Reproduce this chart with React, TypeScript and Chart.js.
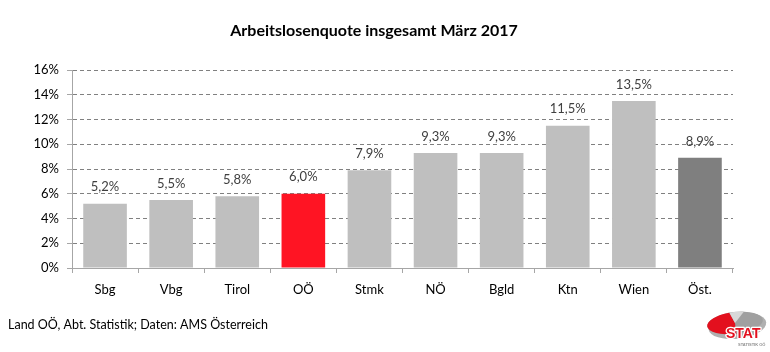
import React, { useEffect, useRef } from "react";
import { Chart, registerables } from "chart.js";

Chart.register(...registerables);

const TITLE = "Arbeitslosenquote insgesamt März 2017";
const SOURCE = "Land OÖ, Abt. Statistik; Daten: AMS Österreich";
const categories = ["Sbg", "Vbg", "Tirol", "OÖ", "Stmk", "NÖ", "Bgld", "Ktn", "Wien", "Öst."];
const values = [5.2, 5.5, 5.8, 6.0, 7.9, 9.3, 9.3, 11.5, 13.5, 8.9];
const barColors = ["#BFBFBF", "#BFBFBF", "#BFBFBF", "#FF1423", "#BFBFBF", "#BFBFBF", "#BFBFBF", "#BFBFBF", "#BFBFBF", "#7F7F7F"];
const yMax = 16;
const yStep = 2;

const FONT = "Lato, 'Open Sans', sans-serif";

const decorPlugin = {
  id: "decor",
  afterDatasetsDraw(chart: any) {
    const ctx = chart.ctx as CanvasRenderingContext2D;
    const meta = chart.getDatasetMeta(0);
    ctx.save();
    ctx.fillStyle = "#404040";
    ctx.font = `13px ${FONT}`;
    ctx.textAlign = "center";
    ctx.textBaseline = "bottom";
    meta.data.forEach((bar: any, i: number) => {
      const label = values[i].toFixed(1).replace(".", ",") + "%";
      ctx.fillText(label, bar.x, bar.y - 10);
    });
    ctx.restore();
  },
  afterDraw(chart: any) {
    const ctx = chart.ctx as CanvasRenderingContext2D;
    ctx.save();
    // title
    ctx.fillStyle = "#000000";
    ctx.font = `bold 16px ${FONT}`;
    ctx.textAlign = "center";
    ctx.textBaseline = "middle";
    ctx.fillText(TITLE, 374, 31);
    // source
    ctx.fillStyle = "#000000";
    ctx.font = `12.5px ${FONT}`;
    ctx.textAlign = "left";
    ctx.fillText(SOURCE, 8, 325);
    // logo
    const cx = 735, cy = 323;
    ctx.save();
    ctx.translate(cx, cy);
    ctx.rotate(-0.12);
    // lower gray swoosh
    ctx.beginPath();
    ctx.ellipse(2, 3, 29, 13, 0, 0, Math.PI * 2);
    ctx.fillStyle = "#B0B0B0";
    ctx.fill();
    ctx.beginPath();
    ctx.ellipse(0, 0, 28, 11, 0, 0, Math.PI * 2);
    ctx.fillStyle = "#A0A0A0";
    ctx.fill();
    ctx.beginPath();
    ctx.moveTo(0, 0);
    ctx.ellipse(0, 0, 28, 11, 0, Math.PI * 0.5, Math.PI * 1.45);
    ctx.closePath();
    ctx.fillStyle = "#E3101E";
    ctx.fill();
    ctx.beginPath();
    ctx.moveTo(0, 0);
    ctx.ellipse(0, 0, 28, 11, 0, Math.PI * 1.45, Math.PI * 1.62);
    ctx.closePath();
    ctx.fillStyle = "#D8D8D8";
    ctx.fill();
    ctx.restore();
    ctx.fillStyle = "#E3101E";
    ctx.font = `bold 14px 'Liberation Sans', Arial, sans-serif`;
    ctx.textAlign = "left";
    ctx.textBaseline = "alphabetic";
    ctx.strokeStyle = "#FFFFFF";
    ctx.lineWidth = 2.5;
    ctx.lineJoin = "round";
    ctx.strokeText("STAT", 726, 338);
    ctx.fillText("STAT", 726, 338);
    ctx.fillStyle = "#909090";
    ctx.font = `bold 4px 'Liberation Sans', sans-serif`;
    ctx.fillText("STATISTIK OÖ", 738, 346);
    ctx.restore();
  },
};

export default function App() {
  const ref = useRef<HTMLCanvasElement | null>(null);
  useEffect(() => {
    document.body.style.margin = "0";
    if (!ref.current) return;
    const chart = new Chart(ref.current, {
      type: "bar",
      data: {
        labels: categories,
        datasets: [
          {
            data: values,
            backgroundColor: barColors,
            borderWidth: 0,
            categoryPercentage: 1,
            barPercentage: 0.66,
          },
        ],
      },
      options: {
        responsive: false,
        animation: false,
        layout: { padding: { top: 70, right: 37, bottom: 0, left: 0 } },
        plugins: { legend: { display: false }, tooltip: { enabled: false }, title: { display: false } },
        scales: {
          x: {
            offset: true,
            grid: {
              offset: true,
              drawOnChartArea: false,
              drawTicks: true,
              tickLength: 5,
              color: "#A6A6A6",
            },
            border: { color: "#A6A6A6", width: 1 },
            ticks: { color: "#000000", font: { family: FONT, size: 13 }, padding: 9 },
            afterFit: (s: any) => { s.height = 84; },
          },
          y: {
            min: 0,
            max: yMax,
            ticks: {
              stepSize: yStep,
              color: "#000000",
              font: { family: FONT, size: 13 },
              padding: 8,
              callback: (v: any) => `${v}%`,
            },
            grid: {
              color: (c: any) => (c.tick && c.tick.value === 0 ? "rgba(0,0,0,0)" : "#808080"),
              lineWidth: 1,
              tickLength: 5,
              tickColor: "#A6A6A6",
              tickBorderDash: [],
            },
            border: { color: "#A6A6A6", width: 1, dash: [4, 3] },
            afterFit: (s: any) => { s.width = 72; },
          },
        },
      },
      plugins: [decorPlugin],
    } as any);
    return () => chart.destroy();
  }, []);
  return (
    <div style={{ width: 770, height: 352, background: "#fff" }}>
      <canvas ref={ref} width={770} height={352} style={{ display: "block" }} />
    </div>
  );
}
